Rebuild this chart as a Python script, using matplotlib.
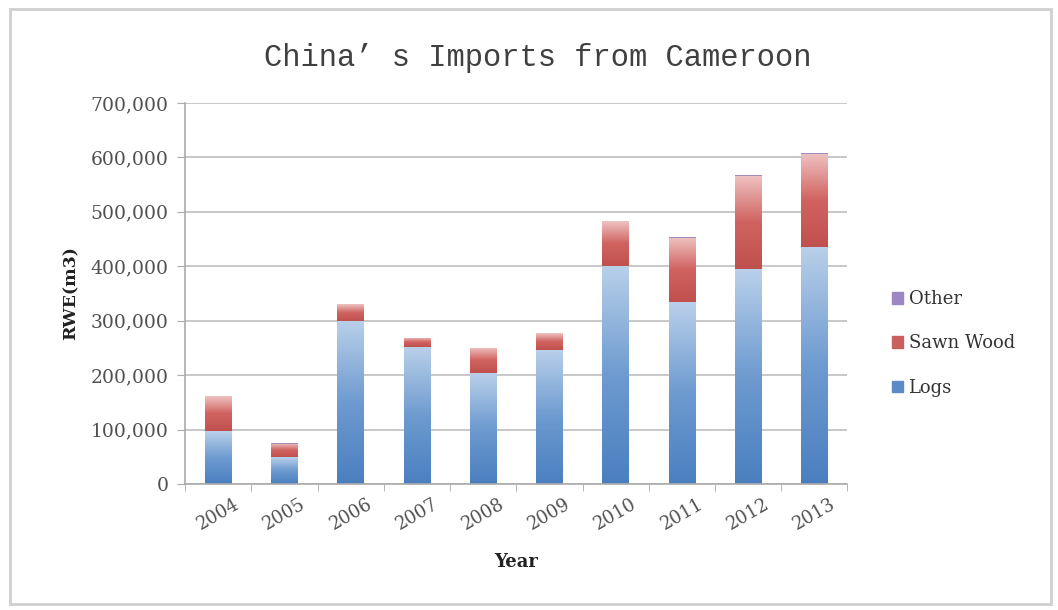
import numpy as np
import matplotlib.pyplot as plt
from matplotlib.colors import LinearSegmentedColormap
from matplotlib.patches import Rectangle

# Data (RWE m3)
years = ["2004", "2005", "2006", "2007", "2008", "2009", "2010", "2011", "2012", "2013"]
logs = [97000, 49000, 300000, 251000, 203000, 247000, 401000, 334000, 395000, 436000]
sawn_wood = [64000, 25000, 30000, 17000, 46000, 30000, 82000, 118000, 171000, 171000]
other = [1000, 500, 1000, 500, 1000, 500, 1000, 1000, 1000, 1500]

fig = plt.figure(figsize=(10.58, 6.10), dpi=100)
fig.patches.append(Rectangle((0.009, 0.01), 0.984, 0.975, transform=fig.transFigure,
                             fill=False, edgecolor="#cfcfcf", linewidth=2))
ax = fig.add_axes([0.175, 0.2066, 0.626, 0.6246])

x = np.arange(len(years))
width = 0.4

blue_cmap = LinearSegmentedColormap.from_list("b", ["#4a7fbf", "#6e9bd0", "#b9d0ea"])
red_cmap = LinearSegmentedColormap.from_list("r", ["#c0504d", "#d06360", "#eec3c2"])
purple_cmap = LinearSegmentedColormap.from_list("p", ["#8064a2", "#b5a3cc"])


def gradient_bars(bottom, heights, cmap, label):
    bars = ax.bar(x, heights, width, bottom=bottom, color="none", edgecolor="none",
                  label=label, zorder=2)
    grad = np.linspace(0, 1, 256).reshape(-1, 1)
    for b in bars:
        x0, y0 = b.get_x(), b.get_y()
        w, h = b.get_width(), b.get_height()
        if h <= 0:
            continue
        im = ax.imshow(grad, cmap=cmap, aspect="auto", origin="lower",
                       extent=[x0, x0 + w, y0, y0 + h], zorder=2)
        im.set_clip_path(b)
    return bars


b1 = gradient_bars(np.zeros(len(years)), logs, blue_cmap, "Logs")
bottom2 = np.array(logs)
b2 = gradient_bars(bottom2, sawn_wood, red_cmap, "Sawn Wood")
bottom3 = bottom2 + np.array(sawn_wood)
b3 = gradient_bars(bottom3, other, purple_cmap, "Other")

ax.set_xlim(-0.5, len(years) - 0.5)
ax.set_ylim(0, 700000)
ax.set_yticks(np.arange(0, 700001, 100000))
ax.set_yticklabels([f"{v:,}" for v in range(0, 700001, 100000)],
                   family="DejaVu Serif", fontsize=13.5, color="#505050")
ax.set_xticks(x)
ax.set_xticklabels(years, rotation=30, family="DejaVu Serif", fontsize=13,
                   color="#505050", ha="center")
ax.tick_params(axis="x", length=0, pad=8)
ax.set_xticks(np.arange(-0.5, len(years)), minor=True)
ax.tick_params(axis="x", which="minor", length=5, color="#aaaaaa")
ax.tick_params(axis="y", length=6, color="#aaaaaa", pad=6)

ax.grid(axis="y", color="#bfbfbf", linewidth=1.2, zorder=0)
ax.set_axisbelow(True)
for s in ["top", "right"]:
    ax.spines[s].set_visible(False)
for s in ["left", "bottom"]:
    ax.spines[s].set_color("#aaaaaa")
    ax.spines[s].set_linewidth(1.2)

ax.set_xlabel("Year", family="DejaVu Serif", fontsize=13, fontweight="bold",
              labelpad=14, color="#222222")
ax.set_ylabel("RWE(m3)", family="DejaVu Serif", fontsize=12.5, fontweight="bold",
              labelpad=8, color="#222222")
fig.text(0.508, 0.905, "China’ s Imports from Cameroon", family="Liberation Mono",
         fontsize=22, color="#404040", ha="center", va="center")

handles = [Rectangle((0, 0), 1, 1, color="#9b87c1"),
           Rectangle((0, 0), 1, 1, color="#c9605d"),
           Rectangle((0, 0), 1, 1, color="#5b8ac4")]
fig.legend(handles, ["Other", "Sawn Wood", "Logs"], loc="center left",
           bbox_to_anchor=(0.828, 0.437), frameon=False,
           prop={"family": "DejaVu Serif", "size": 13}, handlelength=0.6,
           handleheight=0.6, handletextpad=0.3, labelspacing=1.45,
           labelcolor="#333333")

fig.savefig("out.png", dpi=100)
